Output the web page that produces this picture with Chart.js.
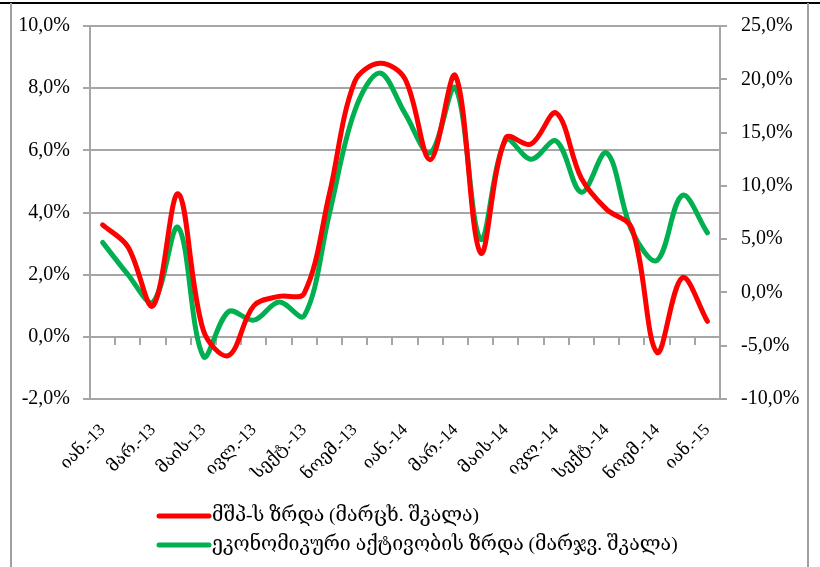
<!DOCTYPE html>
<html>
<head>
<meta charset="utf-8">
<script src="https://cdn.jsdelivr.net/npm/chart.js@4/dist/chart.umd.min.js"></script>
<style>
  html, body { margin: 0; padding: 0; background: #fff; }
  #wrap { width: 820px; height: 567px; }
</style>
</head>
<body>
<div id="wrap"><canvas id="chart__growth" width="820" height="567"></canvas></div>
<script>
const months = [
  'იან.-13', 'თებ.-13', 'მარ.-13', 'აპრ.-13', 'მაის-13', 'ივნ.-13', 'ივლ.-13', 'აგვ.-13', 'სექტ.-13', 'ოქტ.-13', 'ნოემ.-13', 'დეკ.-13',
  'იან.-14', 'თებ.-14', 'მარ.-14', 'აპრ.-14', 'მაის-14', 'ივნ.-14', 'ივლ.-14', 'აგვ.-14', 'სექტ.-14', 'ოქტ.-14', 'ნოემ.-14', 'დეკ.-14',
  'იან.-15'
];
const gdpGrowth = [3.6, 2.9, 1.0, 4.6, 0.2, -0.6, 1.0, 1.3, 1.4, 4.6, 8.2, 8.8, 8.3, 5.7, 8.4, 2.7, 6.4, 6.2, 7.2, 5.1, 4.1, 3.5, -0.5, 1.9, 0.5];
const activityGrowth = [4.7, 1.7, -0.9, 6.1, -6.0, -1.8, -2.6, -0.9, -2.2, 7.4, 17.0, 20.6, 16.8, 13.1, 19.2, 5.0, 14.3, 12.5, 14.2, 9.4, 13.1, 5.8, 3.0, 9.1, 5.6];
const seriesNames = ['მშპ-ს ზრდა (მარცხ. შკალა)', 'ეკონომიკური აქტივობის ზრდა (მარჯვ. შკალა)'];
const leftTicks = { min: -2, max: 10, step: 2 };
const rightTicks = { min: -10, max: 25, step: 5 };

const FONT = '"Liberation Serif", "DejaVu Serif", serif';
const GRID = '#a6a6a6';
const pct = v => v.toFixed(1).replace('.', ',') + '%';

// frame + legend drawn by hand (two stacked rows, left aligned)
const frame = {
  id: 'frame',
  beforeDraw(chart) {
    const c = chart.ctx;
    c.save();
    c.fillStyle = '#fff';
    c.fillRect(0, 0, chart.width, chart.height);
    c.strokeStyle = '#000';
    c.lineWidth = 2;
    c.beginPath(); c.moveTo(0, 3); c.lineTo(820, 3); c.stroke();
    c.strokeStyle = '#a0a0a0';
    c.lineWidth = 2;
    c.beginPath(); c.moveTo(11, 3); c.lineTo(11, 567); c.stroke();
    c.beginPath(); c.moveTo(808, 3); c.lineTo(808, 567); c.stroke();
    c.restore();
  },
  afterDraw(chart) {
    const c = chart.ctx;
    c.save();
    chart.data.datasets.forEach((ds, i) => {
      const y = 516 + i * 29;
      c.strokeStyle = ds.borderColor;
      c.lineWidth = 5;
      c.lineCap = 'round';
      c.beginPath(); c.moveTo(159, y); c.lineTo(209, y); c.stroke();
      c.fillStyle = '#000';
      c.font = '19.5px ' + FONT;
      c.textBaseline = 'middle';
      c.fillText(ds.label, 212, y);
    });
    c.restore();
  }
};

new Chart(document.getElementById('chart__growth'), {
  type: 'line',
  data: {
    labels: months,
    datasets: [
      {
        label: seriesNames[0],
        data: gdpGrowth,
        yAxisID: 'y',
        borderColor: '#ff0000',
        borderWidth: 5,
        pointRadius: 0,
        tension: 0.35,
        borderCapStyle: 'round'
      },
      {
        label: seriesNames[1],
        data: activityGrowth,
        yAxisID: 'y1',
        borderColor: '#00b050',
        borderWidth: 5,
        pointRadius: 0,
        tension: 0.35,
        borderCapStyle: 'round'
      }
    ]
  },
  options: {
    responsive: false,
    animation: false,
    layout: { padding: { top: 25, left: 0, right: 0, bottom: 0 } },
    plugins: { legend: { display: false }, tooltip: { enabled: false } },
    scales: {
      x: {
        type: 'category',
        offset: true,
        grid: { display: false },
        border: { display: false },
        ticks: {
          autoSkip: false,
          minRotation: 45,
          maxRotation: 45,
          padding: 13,
          color: '#000',
          font: { family: FONT, size: 17 },
          callback: function (v, i) { return i % 2 === 0 ? this.getLabelForValue(v) : ''; }
        },
        afterFit: s => { s.height = 168; }
      },
      x0: {
        type: 'category',
        position: { y: 0 },
        offset: true,
        grid: { offset: true, drawOnChartArea: false, tickLength: 7, color: GRID, lineWidth: 2 },
        border: { color: GRID, width: 2 },
        ticks: { display: false }
      },
      y: {
        position: 'left',
        min: leftTicks.min,
        max: leftTicks.max,
        ticks: {
          stepSize: leftTicks.step,
          color: '#000',
          padding: 13,
          font: { family: FONT, size: 20 },
          callback: v => pct(v)
        },
        grid: { color: GRID, lineWidth: 2, tickLength: 7 },
        border: { color: GRID, width: 2 },
        afterFit: s => { s.width = 90; }
      },
      y1: {
        position: 'right',
        min: rightTicks.min,
        max: rightTicks.max,
        ticks: {
          stepSize: rightTicks.step,
          color: '#000',
          padding: 14,
          font: { family: FONT, size: 20 },
          callback: v => pct(v)
        },
        grid: { drawOnChartArea: false, color: GRID, lineWidth: 2, tickLength: 7 },
        border: { color: GRID, width: 2 },
        afterFit: s => { s.width = 100; }
      }
    }
  },
  plugins: [frame]
});
</script>
</body>
</html>
